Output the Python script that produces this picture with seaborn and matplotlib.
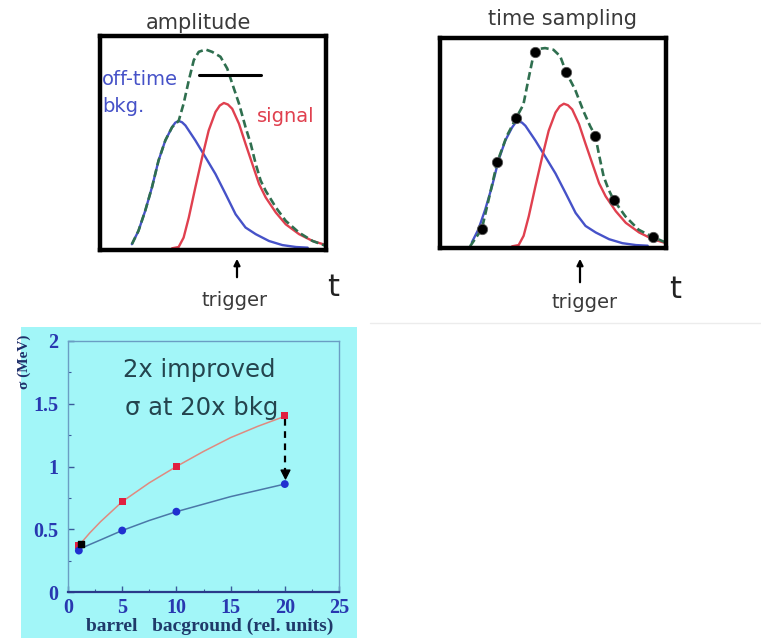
import matplotlib
matplotlib.use("Agg")
import matplotlib.pyplot as plt
from matplotlib.patches import Rectangle, FancyArrowPatch
from matplotlib.lines import Line2D
from matplotlib.ticker import MultipleLocator
import seaborn as sns

sns.set_style("white")
plt.rcParams['font.family'] = ['DejaVu Sans']

W, H = 761, 638

# pulse shapes (box units 0..10 on both axes)
bkg_t = [1.41, 1.70, 2.00, 2.30, 2.59, 2.89, 3.19, 3.33, 3.48, 3.63, 3.78, 4.22, 4.67,
         5.11, 5.56, 6.00, 6.44, 6.89, 7.48, 8.07, 8.67, 9.19]
bkg_amp = [0.27, 0.89, 1.83, 2.93, 4.18, 5.12, 5.74, 5.95, 6.03, 5.97, 5.82, 5.12, 4.33,
           3.55, 2.61, 1.67, 1.05, 0.74, 0.42, 0.23, 0.14, 0.11]

sig_t = [3.19, 3.48, 3.70, 3.93, 4.22, 4.52, 4.81, 5.11, 5.30, 5.48, 5.66, 5.85, 6.15,
         6.44, 6.74, 7.04, 7.33, 7.78, 8.22, 8.81, 9.41, 10.0]
sig_amp = [0.08, 0.14, 0.58, 1.52, 2.93, 4.33, 5.59, 6.45, 6.75, 6.87, 6.80, 6.60, 5.90,
           4.96, 4.02, 3.08, 2.46, 1.75, 1.20, 0.74, 0.42, 0.23]

sum_t = [1.41, 1.70, 2.00, 2.30, 2.59, 2.89, 3.19, 3.48, 3.70, 3.93, 4.15, 4.37,
         4.67, 4.96, 5.33, 5.63, 5.85, 6.15, 6.44, 6.67, 6.89, 7.11, 7.33, 7.78,
         8.22, 8.81, 9.41, 10.0]
sum_amp = [0.27, 0.89, 1.83, 2.93, 4.18, 5.12, 5.74, 6.03, 6.84, 7.93, 8.87, 9.26,
           9.37, 9.26, 9.03, 8.48, 7.78, 6.84, 5.74, 4.96, 4.02, 3.24, 2.77, 1.99,
           1.36, 0.81, 0.42, 0.19]

# sum pulse as drawn in the "time sampling" box
sum2_t = [1.33, 1.85, 2.54, 2.95, 3.38, 3.69, 3.91, 4.14, 4.36, 4.65, 5.02, 5.32,
          5.58, 5.98, 6.35, 6.65, 6.87, 7.05, 7.24, 7.46, 7.68, 8.20, 8.79, 9.42, 9.97]
sum2_amp = [0.08, 0.90, 4.11, 5.32, 6.21, 6.83, 8.02, 9.21, 9.48, 9.52, 9.44, 9.13,
            8.37, 7.54, 6.51, 5.79, 5.35, 4.37, 3.41, 2.78, 2.30, 1.51, 0.87, 0.52, 0.27]

sample_t = [1.85, 2.54, 3.38, 4.21, 5.58, 6.87, 7.68, 9.42]
sample_amp = [0.90, 4.11, 6.21, 9.32, 8.37, 5.35, 2.30, 0.52]

# resolution vs barrel background
bkg_level = [1, 5, 10, 20]
sigma_old = [0.37, 0.72, 1.00, 1.41]
sigma_new = [0.33, 0.49, 0.64, 0.86]
fit_x = [1, 2, 3, 5, 7.5, 10, 12.5, 15, 17.5, 20]
fit_old = [0.37, 0.47, 0.56, 0.72, 0.87, 1.00, 1.12, 1.23, 1.32, 1.40]
fit_new = [0.34, 0.378, 0.415, 0.49, 0.57, 0.64, 0.70, 0.76, 0.81, 0.86]


def fx(x):
    return x / W


def fy(y):
    return 1 - y / H


BLUE = '#4652c8'
RED = '#e0404f'
GREEN = '#2f6f4f'
GREY = '#3a3a3a'
CYAN = '#a2f6f8'

fig = plt.figure(figsize=(W / 100, H / 100), dpi=100)
fig.patch.set_facecolor('white')

# cyan panel behind the lower plot
fig.patches.append(Rectangle((fx(21), 0), fx(336), 311 / H, transform=fig.transFigure,
                             facecolor=CYAN, edgecolor='none', zorder=-5))
fig.lines.append(Line2D([fx(370), fx(761)], [fy(323), fy(323)], transform=fig.transFigure,
                        color='#ececec', lw=1, zorder=-5))


def pulse_box(rect, sum_x, sum_y):
    ax = fig.add_axes(rect)
    sns.lineplot(x=bkg_t, y=bkg_amp, ax=ax, color=BLUE, lw=1.7)
    sns.lineplot(x=sig_t, y=sig_amp, ax=ax, color=RED, lw=1.7)
    sns.lineplot(x=sum_x, y=sum_y, ax=ax, color=GREEN, lw=1.9, linestyle=(0, (3, 1.5)))
    ax.set_xlim(0, 10)
    ax.set_ylim(0, 10)
    ax.set_xticks([])
    ax.set_yticks([])
    ax.set_xlabel('')
    ax.set_ylabel('')
    for s in ax.spines.values():
        s.set_visible(True)
        s.set_color('black')
        s.set_linewidth(3.2)
    return ax


# amplitude box
ax1 = pulse_box([fx(100), fy(250), fx(226), 214 / H], sum_t, sum_amp)
ax1.plot([4.37, 7.11], [8.17, 8.17], color='black', lw=2.2)
ax1.text(0.08, 7.7, 'off-time', color=BLUE, fontsize=14, va='baseline', ha='left')
ax1.text(0.08, 6.45, 'bkg.', color=BLUE, fontsize=14, va='baseline', ha='left')
ax1.text(6.96, 5.98, 'signal', color=RED, fontsize=14, va='baseline', ha='left')

# time sampling box
ax2 = pulse_box([fx(440), fy(248), fx(226), 210 / H], sum2_t, sum2_amp)
sns.scatterplot(x=sample_t, y=sample_amp, ax=ax2, color='black', s=55,
                edgecolor='#555555', linewidth=0.6, zorder=5, clip_on=False)
ax2.set_xlabel('')
ax2.set_ylabel('')

for title, cx, cy in [('amplitude', 198, 23), ('time sampling', 563, 19)]:
    fig.text(fx(cx), fy(cy), title, ha='center', va='center', fontsize=15, color=GREY)

for x, ytail, ty, tx in [(237, 280, 300, 235), (580, 285, 303, 585)]:
    fig.add_artist(FancyArrowPatch(
        (fx(x), fy(ytail)), (fx(x), fy(256)), transform=fig.transFigure,
        arrowstyle='-|>', mutation_scale=9, color='black', lw=1.6))
    fig.text(fx(tx), fy(ty), 'trigger', ha='center', va='center', fontsize=14, color=GREY)
for tx, tty in [(333, 287), (675, 289)]:
    fig.text(fx(tx), fy(tty), 't', ha='center', va='center', fontsize=22, color='#222222')

# sigma vs background
ax3 = fig.add_axes([fx(68), fy(592), fx(271), 251 / H])
ax3.set_facecolor(CYAN)
sns.lineplot(x=fit_x, y=fit_old, ax=ax3, color='#e08a80', lw=1.1)
sns.lineplot(x=fit_x, y=fit_new, ax=ax3, color='#4a78a8', lw=1.1)
sns.scatterplot(x=bkg_level, y=sigma_old, ax=ax3, color='#e02040', marker='s', s=26,
                edgecolor='none', zorder=4)
sns.scatterplot(x=bkg_level, y=sigma_new, ax=ax3, color='#2030d0', marker='o', s=32,
                edgecolor='none', zorder=4)
ax3.scatter([bkg_level[0] + 0.2], [sigma_old[0] + 0.015], color='black', marker='s', s=20, zorder=5)
ax3.plot([bkg_level[-1], bkg_level[-1]], [sigma_old[-1] - 0.03, sigma_new[-1] + 0.1],
         color='black', lw=1.6, linestyle=(0, (3, 2.5)))
ax3.scatter([bkg_level[-1]], [sigma_new[-1] + 0.08], color='black', marker='v', s=40, zorder=5)
ax3.set_xlim(0, 25)
ax3.set_ylim(0, 2)
ax3.set_xticks([0, 5, 10, 15, 20, 25])
ax3.set_yticks([0, 0.5, 1, 1.5, 2])
ax3.set_xticklabels(['0', '5', '10', '15', '20', '25'])
ax3.set_yticklabels(['0', '0.5', '1', '1.5', '2'])
ax3.xaxis.set_minor_locator(MultipleLocator(2.5))
ax3.yaxis.set_minor_locator(MultipleLocator(0.25))
ax3.tick_params(which='both', direction='in', color='#3a5a9a', top=False, right=False,
                bottom=True, left=True)
ax3.tick_params(which='major', length=4, width=1)
ax3.tick_params(which='minor', length=2, width=0.8)
ax3.tick_params(axis='x', pad=4)
ax3.tick_params(axis='y', pad=7)
for lab in ax3.get_xticklabels() + ax3.get_yticklabels():
    lab.set_fontfamily('Liberation Serif')
    lab.set_fontweight('bold')
    lab.set_fontsize(14.5)
    lab.set_color('#2838b0')
ax3.set_xlabel('')
ax3.set_ylabel('')
for name, s in ax3.spines.items():
    s.set_visible(True)
    s.set_color('#6a9ec4')
    s.set_linewidth(1.0)
ax3.spines['bottom'].set_color('#2a3a8a')
ax3.spines['bottom'].set_linewidth(1.6)

ax3.text(12.1, 1.77, '2x improved', ha='center', va='center', fontsize=17.5, color='#24444e')
ax3.text(12.3, 1.47, 'σ at 20x bkg', ha='center', va='center', fontsize=17.5, color='#24444e')

fig.text(fx(210), fy(626), 'barrel   bacground (rel. units)', ha='center', va='center',
         fontsize=14, fontweight='bold', family='Liberation Serif', color='#1f3a6a')
fig.text(fx(24), fy(362), 'σ (MeV)', ha='center', va='center', rotation=90,
         fontsize=11, fontweight='bold', family='Liberation Serif', color='#1f2f6a')

fig.savefig('out.png', dpi=100)
